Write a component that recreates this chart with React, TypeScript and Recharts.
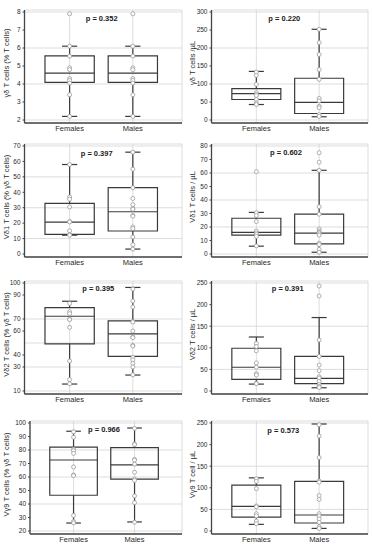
import React from "react"
import { CartesianGrid, ComposedChart, ReferenceArea, ReferenceLine, Scatter, XAxis, YAxis } from "recharts"

const groups = ["Females", "Males"]

// box stats per group: [min, q1, median, q3, max]
const gdPctBox = [[2.2, 4.09, 4.6, 5.56, 6.1], [2.2, 4.09, 4.6, 5.56, 6.1]]
const gdPctPts = [
  [7.9, 6.1, 5.55, 4.9, 4.8, 4.3, 4.2, 4.05, 3.4, 2.2],
  [7.9, 6.1, 5.55, 4.9, 4.8, 4.3, 4.2, 4.05, 3.4, 2.2],
]
const gdAbsBox = [[43, 57, 73, 87, 135], [9, 18, 49, 116, 252]]
const gdAbsPts = [
  [133, 124, 99, 76, 71, 68, 57, 47, 43],
  [252, 215, 182, 140, 113, 60, 53, 38, 34, 15, 10],
]
const vd1PctBox = [[12.2, 12.7, 20.7, 32.8, 58], [3.2, 14.9, 27.4, 43, 66]]
const vd1PctPts = [
  [58, 37, 35.5, 30.5, 21, 20.8, 15, 12.5, 12.2],
  [66, 55, 43, 36, 32, 29.5, 29, 25, 24.5, 17.5, 16.5, 11, 6, 3.2],
]
const vd1AbsBox = [[5.8, 14, 16, 26.5, 30.8], [1.3, 7.5, 15.5, 29.5, 62]]
const vd1AbsPts = [
  [61, 30.5, 28.5, 24, 17, 15.5, 14.5, 13, 6],
  [75, 68, 62, 35, 29.5, 18.5, 17, 16, 15, 14, 8, 7, 3.5, 1.3],
]
const vd2PctBox = [[15.8, 49.3, 72.3, 79.5, 84.8], [23.3, 38.8, 57.6, 68.4, 96.3]]
const vd2PctPts = [
  [83, 76, 74.5, 70, 69.5, 63, 35, 19.5, 16],
  [95, 85, 80, 68, 67.5, 60, 55, 54.5, 48, 47.5, 38, 36, 33, 30, 23.5],
]
const vd2AbsBox = [[16, 27, 55, 99, 125], [7.5, 17, 29, 80, 170]]
const vd2AbsPts = [
  [110, 103, 93, 65, 55, 40, 37, 18, 17],
  [243, 220, 118, 80, 60, 47, 33, 30, 22, 15, 11, 8],
]
const vg9PctBox = [[25.9, 46.5, 72.6, 82.2, 93.9], [26.7, 58.4, 69, 81.7, 96.3]]
const vg9PctPts = [
  [93.5, 89.5, 80.5, 79.5, 77.5, 67.5, 61.5, 61, 31.5, 27, 26],
  [96, 84.5, 84, 73, 72.5, 69.5, 63.5, 58.5, 57.5, 46, 41, 26.5],
]
const vg9AbsBox = [[15.4, 32, 57, 106, 123], [6, 18.5, 37, 115, 247.7]]
const vg9AbsPts = [
  [121, 115, 98, 58, 56, 40, 35, 23, 17],
  [246, 220, 170, 116, 113, 82, 73, 40, 35, 28, 20, 10, 6],
]

const ticksGdPct = [2, 3, 4, 5, 6, 7, 8]
const ticksGdAbs = [0, 50, 100, 150, 200, 250, 300]
const ticksVd1Pct = [0, 10, 20, 30, 40, 50, 60, 70]
const ticksVd1Abs = [0, 10, 20, 30, 40, 50, 60, 70, 80]
const ticksVd2Pct = [10, 20, 30, 40, 50, 60, 70, 80, 90, 100]
const ticks250 = [0, 50, 100, 150, 200, 250]
const ticksVg9Pct = [20, 30, 40, 50, 60, 70, 80, 90, 100]

const yLabels = [
  "γδ T cells (% T cells)",
  "γδ T cells /µL",
  "Vδ1 T cells (% γδ T cells)",
  "Vδ1 T cells / µL",
  "Vδ2 T cells (% γδ T cells)",
  "Vδ2 T cells / µL",
  "Vγ9 T cells (% γδ T cells)",
  "Vγ9 T cell / µL",
]
const pValues = ["0.352", "0.220", "0.397", "0.602", "0.395", "0.391", "0.966", "0.573"]

const panels = [
  { box: gdPctBox, pts: gdPctPts, ticks: ticksGdPct },
  { box: gdAbsBox, pts: gdAbsPts, ticks: ticksGdAbs },
  { box: vd1PctBox, pts: vd1PctPts, ticks: ticksVd1Pct },
  { box: vd1AbsBox, pts: vd1AbsPts, ticks: ticksVd1Abs },
  { box: vd2PctBox, pts: vd2PctPts, ticks: ticksVd2Pct },
  { box: vd2AbsBox, pts: vd2AbsPts, ticks: ticks250 },
  { box: vg9PctBox, pts: vg9PctPts, ticks: ticksVg9Pct },
  { box: vg9AbsBox, pts: vg9AbsPts, ticks: ticks250 },
]

// layout
const FONT = "'Liberation Sans', Arial, sans-serif"
const rowTops = [9.5, 143.5, 281, 421]
const PLOT_H = 113
const TICK_SPAN = 108
const CHART_W = 186
const M_TOP = 4
const X_H = 16
const pPos = [
  [101.7, 18.3], [284.3, 18.3],
  [96.7, 153.3], [286, 152.3],
  [98.3, 288], [287.7, 288.7],
  [104, 429.7], [283.3, 430.7],
]
const labelX = [6.5, 192.5]
const BOX_HW = 0.39
const CAP_HW = 0.12
const DARK = "#3a3a3a"
const AXIS = "#444"

function Dot(props: any) {
  const { cx, cy } = props
  if (cx == null || cy == null) return null
  return <circle cx={cx} cy={cy} r={2} fill="#fff" stroke="#9a9a9a" strokeWidth={0.8} />
}

function Panel({ idx }: { idx: number }) {
  const { box, pts, ticks } = panels[idx]
  const col = idx % 2
  const row = Math.floor(idx / 2)
  const lo = ticks[0]
  const hi = ticks[ticks.length - 1]
  const span = hi - lo
  const domain = [lo - (3 * span) / TICK_SPAN, hi + (2 * span) / TICK_SPAN]
  const yW = idx === 6 ? 30 : col === 0 ? 24.5 : 25.5
  const scatterData = pts.flatMap((arr, i) => arr.map((v) => ({ g: i + 1, v })))

  return (
    <div style={{ position: "absolute", left: col * 186, top: rowTops[row] - M_TOP }}>
      <ComposedChart
        width={CHART_W}
        height={M_TOP + PLOT_H + X_H}
        margin={{ top: M_TOP, right: 4, bottom: 0, left: 0 }}
      >
        <CartesianGrid stroke="#d4d4d4" strokeWidth={0.8} fill="#fff" />
        <XAxis
          type="number"
          dataKey="g"
          domain={[0.286, 2.778]}
          ticks={[1, 2]}
          allowDataOverflow
          tickFormatter={(v) => groups[v - 1]}
          height={X_H}
          tickLine={false}
          tickSize={2}
          tickMargin={1}
          axisLine={{ stroke: AXIS, strokeWidth: 1.3 }}
          tick={{ fontSize: 7.5, fill: "#2a2a2a", fontFamily: FONT }}
        />
        <YAxis
          type="number"
          domain={domain}
          ticks={ticks}
          allowDataOverflow
          width={yW}
          tickSize={2}
          tickMargin={2}
          tickLine={{ stroke: AXIS }}
          axisLine={{ stroke: AXIS, strokeWidth: 1.3 }}
          tick={{ fontSize: 6.5, fill: "#2a2a2a", fontFamily: FONT }}
        />
        {box.map((b, i) => {
          const c = i + 1
          const [mn, q1, md, q3, mx] = b
          return (
            <React.Fragment key={i}>
              <ReferenceLine segment={[{ x: c, y: mn }, { x: c, y: q1 }]} stroke={DARK} strokeWidth={1.2} />
              <ReferenceLine segment={[{ x: c, y: q3 }, { x: c, y: mx }]} stroke={DARK} strokeWidth={1.2} />
              <ReferenceLine segment={[{ x: c - CAP_HW, y: mn }, { x: c + CAP_HW, y: mn }]} stroke={DARK} strokeWidth={1.2} />
              <ReferenceLine segment={[{ x: c - CAP_HW, y: mx }, { x: c + CAP_HW, y: mx }]} stroke={DARK} strokeWidth={1.2} />
              <ReferenceArea
                x1={c - BOX_HW}
                x2={c + BOX_HW}
                y1={q1}
                y2={q3}
                fill="#fff"
                fillOpacity={0}
                stroke={DARK}
                strokeWidth={1.2}
              />
              <ReferenceLine segment={[{ x: c - BOX_HW, y: md }, { x: c + BOX_HW, y: md }]} stroke={DARK} strokeWidth={1.2} />
            </React.Fragment>
          )
        })}
        <Scatter data={scatterData} dataKey="v" shape={<Dot />} isAnimationActive={false} />
      </ComposedChart>
    </div>
  )
}

export default function App() {
  return (
    <div
      style={{
        position: "absolute",
        left: 0,
        top: 0,
        width: 372,
        height: 550,
        background: "#fff",
        fontFamily: FONT,
      }}
    >
      {panels.map((_, i) => (
        <Panel key={i} idx={i} />
      ))}
      <svg width={372} height={550} style={{ position: "absolute", left: 0, top: 0, pointerEvents: "none" }}>
        {yLabels.map((t, i) => {
          const col = i % 2
          const row = Math.floor(i / 2)
          const x = labelX[col]
          const y = rowTops[row] + PLOT_H / 2 - 3
          return (
            <text
              key={t}
              x={x}
              y={y}
              transform={`rotate(-90 ${x} ${y})`}
              textAnchor="middle"
              dominantBaseline="central"
              fontSize={7.5}
              fill="#2a2a2a"
              fontFamily={FONT}
            >
              {t}
            </text>
          )
        })}
        {pValues.map((p, i) => (
          <text
            key={i}
            x={pPos[i][0]}
            y={pPos[i][1]}
            textAnchor="middle"
            dominantBaseline="central"
            fontSize={7.5}
            fontWeight="bold"
            fill="#1a1a1a"
            fontFamily={FONT}
          >
            {`p = ${p}`}
          </text>
        ))}
      </svg>
    </div>
  )
}
